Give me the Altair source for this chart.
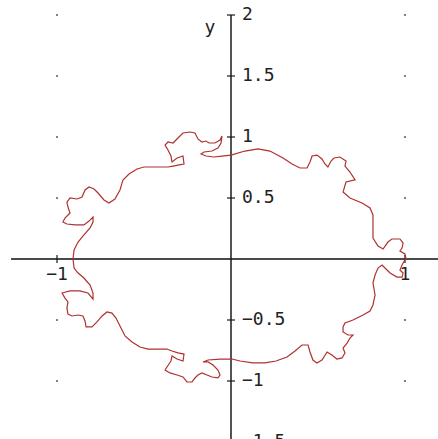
import altair as alt
import pandas as pd

# Closed curve, upper branch traced left to right (axis units)
upper_x = [-0.908, -0.902, -0.879, -0.845, -0.810, -0.793, -0.793, -0.816, -0.845, -0.897,
           -0.943, -0.966, -0.954, -0.925, -0.937, -0.943, -0.925, -0.885, -0.856, -0.839,
           -0.816, -0.787, -0.764, -0.730, -0.701, -0.667, -0.638, -0.621, -0.586, -0.540,
           -0.500, -0.431, -0.362, -0.333, -0.305, -0.270, -0.276, -0.310, -0.339, -0.345,
           -0.362, -0.379, -0.362, -0.333, -0.305, -0.276, -0.236, -0.207, -0.190, -0.167,
           -0.144, -0.126, -0.092, -0.063, -0.052, -0.057, -0.075, -0.109, -0.155, -0.172,
           -0.144, -0.098, -0.052, 0.000, 0.080, 0.155, 0.224, 0.299, 0.351, 0.397,
           0.437, 0.454, 0.466, 0.494, 0.523, 0.540, 0.557, 0.575, 0.592, 0.626,
           0.661, 0.655, 0.684, 0.713, 0.661, 0.644, 0.684, 0.753, 0.799, 0.816,
           0.816, 0.816, 0.845, 0.874, 0.902, 0.925, 0.971, 0.989, 0.983, 0.971,
           1.000, 1.006]
upper_y = [0.000, 0.074, 0.139, 0.197, 0.254, 0.303, 0.344, 0.311, 0.279, 0.279,
           0.287, 0.303, 0.336, 0.377, 0.426, 0.467, 0.500, 0.492, 0.508, 0.566,
           0.590, 0.574, 0.541, 0.484, 0.459, 0.492, 0.566, 0.648, 0.697, 0.738,
           0.754, 0.754, 0.754, 0.762, 0.770, 0.779, 0.844, 0.828, 0.795, 0.844,
           0.893, 0.934, 0.959, 0.951, 0.992, 1.033, 1.041, 1.033, 0.984, 0.959,
           0.967, 0.951, 0.951, 0.975, 1.008, 0.951, 0.910, 0.885, 0.877, 0.861,
           0.844, 0.836, 0.844, 0.852, 0.885, 0.902, 0.885, 0.828, 0.779, 0.746,
           0.746, 0.795, 0.844, 0.852, 0.820, 0.779, 0.754, 0.803, 0.828, 0.836,
           0.803, 0.762, 0.713, 0.648, 0.631, 0.549, 0.500, 0.459, 0.418, 0.361,
           0.279, 0.172, 0.107, 0.082, 0.139, 0.164, 0.164, 0.131, 0.090, 0.066,
           0.041, 0.000]

# Lower branch traced left to right (axis units)
lower_x = [-0.908, -0.902, -0.879, -0.845, -0.810, -0.793, -0.793, -0.822, -0.868, -0.925,
           -0.971, -0.954, -0.937, -0.943, -0.937, -0.914, -0.879, -0.851, -0.839, -0.833,
           -0.799, -0.770, -0.741, -0.713, -0.684, -0.661, -0.638, -0.609, -0.569, -0.523,
           -0.477, -0.368, -0.339, -0.305, -0.270, -0.276, -0.310, -0.339, -0.345, -0.368,
           -0.379, -0.351, -0.310, -0.276, -0.253, -0.224, -0.207, -0.190, -0.167, -0.138,
           -0.109, -0.075, -0.063, -0.075, -0.103, -0.132, -0.161, -0.132, -0.063, 0.006,
           0.052, 0.126, 0.195, 0.259, 0.322, 0.368, 0.408, 0.443, 0.454, 0.471,
           0.494, 0.523, 0.552, 0.580, 0.609, 0.638, 0.655, 0.644, 0.667, 0.684,
           0.701, 0.672, 0.644, 0.644, 0.655, 0.701, 0.759, 0.799, 0.816, 0.828,
           0.816, 0.828, 0.845, 0.868, 0.885, 0.914, 0.954, 0.983, 0.989, 0.971,
           0.983, 1.000, 1.006]
lower_y = [0.000, -0.074, -0.115, -0.156, -0.213, -0.279, -0.328, -0.279, -0.262, -0.262,
           -0.279, -0.320, -0.352, -0.402, -0.451, -0.467, -0.459, -0.467, -0.508, -0.557,
           -0.557, -0.516, -0.467, -0.434, -0.443, -0.484, -0.549, -0.631, -0.680, -0.721,
           -0.738, -0.738, -0.754, -0.770, -0.779, -0.836, -0.820, -0.795, -0.836, -0.885,
           -0.910, -0.934, -0.951, -0.967, -1.008, -1.008, -0.975, -0.951, -0.934, -0.951,
           -0.967, -0.975, -0.951, -0.910, -0.869, -0.844, -0.844, -0.828, -0.820, -0.820,
           -0.836, -0.852, -0.852, -0.836, -0.803, -0.754, -0.705, -0.705, -0.762, -0.828,
           -0.852, -0.828, -0.762, -0.787, -0.820, -0.811, -0.770, -0.730, -0.689, -0.648,
           -0.623, -0.623, -0.598, -0.557, -0.525, -0.500, -0.459, -0.426, -0.377, -0.295,
           -0.197, -0.131, -0.074, -0.049, -0.074, -0.115, -0.148, -0.148, -0.115, -0.090,
           -0.049, -0.008, 0.000]

# Axis ticks and their labels
y_tick_values = [2, 1.5, 1, 0.5, -0.5, -1, -1.5]
y_tick_labels = ["2", "1.5", "1", "0.5", "−0.5", "−1", "−1.5"]
x_tick_values = [-1, 1]
x_tick_labels = ["−1", "1"]

# Background point grid
grid_x = [-1, 1]
grid_y = [2, 1.5, 1, 0.5, -0.5, -1, -1.5]

# Visible window of the plane and axis extents
X_DOMAIN = [-1.3276, 1.1897]
Y_DOMAIN = [-1.4754, 2.1230]
X_AXIS_RANGE = [-1.264, 1.19]
Y_AXIS_RANGE = [-1.475, 2.0]
TICK_HALF_X = 4 / 174   # half tick length along x, in axis units
TICK_HALF_Y = 4 / 122   # half tick length along y, in axis units

W, H = 438, 439
FONT = "DejaVu Sans Mono"
TEXT_COLOR = "#222222"

xs = alt.Scale(domain=X_DOMAIN, nice=False, zero=False)
ys = alt.Scale(domain=Y_DOMAIN, nice=False, zero=False)


def X(field):
    return alt.X(field, type="quantitative", scale=xs, axis=None)


def Y(field):
    return alt.Y(field, type="quantitative", scale=ys, axis=None)


# Curve table
curve_rows = []
for i, (a, b) in enumerate(zip(upper_x, upper_y)):
    curve_rows.append({"x": a, "y": b, "branch": "upper", "i": i})
for i, (a, b) in enumerate(zip(lower_x, lower_y)):
    curve_rows.append({"x": a, "y": b, "branch": "lower", "i": i})
curve_df = pd.DataFrame(curve_rows)

# Grid points
grid_df = pd.DataFrame([{"x": gx, "y": gy} for gx in grid_x for gy in grid_y])

# Axis lines
xaxis_df = pd.DataFrame([{"x": X_AXIS_RANGE[0], "x2": X_AXIS_RANGE[1], "y": 0, "y2": 0}])
yaxis_df = pd.DataFrame([{"x": 0, "x2": 0, "y": Y_AXIS_RANGE[0], "y2": Y_AXIS_RANGE[1]}])

# Tick marks
ytick_df = pd.DataFrame([{"x": -TICK_HALF_X, "x2": TICK_HALF_X, "y": v, "y2": v, "label": t}
                         for v, t in zip(y_tick_values, y_tick_labels)])
xtick_df = pd.DataFrame([{"x": v, "x2": v, "y": -TICK_HALF_Y, "y2": TICK_HALF_Y, "label": t}
                         for v, t in zip(x_tick_values, x_tick_labels)])

grid_layer = alt.Chart(grid_df).mark_point(filled=True, size=5, color="#666666", opacity=1).encode(
    x=X("x"), y=Y("y"))

xaxis_layer = alt.Chart(xaxis_df).mark_rule(color="#4a4a4a", strokeWidth=2).encode(
    x=X("x"), x2="x2", y=Y("y"), y2="y2")
yaxis_layer = alt.Chart(yaxis_df).mark_rule(color="#1a1a1a", strokeWidth=1.5).encode(
    x=X("x"), x2="x2", y=Y("y"), y2="y2")

ytick_layer = alt.Chart(ytick_df).mark_rule(color="#1a1a1a", strokeWidth=1.2).encode(
    x=X("x"), x2="x2", y=Y("y"), y2="y2")
xtick_layer = alt.Chart(xtick_df).mark_rule(color="#1a1a1a", strokeWidth=1.2).encode(
    x=X("x"), x2="x2", y=Y("y"), y2="y2")

ylabel_layer = alt.Chart(ytick_df).mark_text(
    align="left", baseline="middle", dx=7, font=FONT, fontSize=18, color=TEXT_COLOR
).encode(x=alt.X("x2:Q", scale=xs, axis=None), y=Y("y"), text="label:N")

xlabel_layer = alt.Chart(xtick_df).mark_text(
    align="center", baseline="middle", dy=20, font=FONT, fontSize=18, color=TEXT_COLOR
).encode(x=X("x"), y=alt.Y("y2:Q", scale=ys, axis=None), text="label:N")

name_layer = alt.Chart(pd.DataFrame([{"x": 0, "y": 2, "t": "y"}])).mark_text(
    align="center", baseline="middle", dx=-21, dy=13, font=FONT, fontSize=18, color=TEXT_COLOR
).encode(x=X("x"), y=Y("y"), text="t:N")

curve_layer = alt.Chart(curve_df).mark_line(color="#b03030", strokeWidth=1.2).encode(
    x=X("x"), y=Y("y"), detail="branch:N", order="i:Q")

chart = alt.layer(
    grid_layer, xaxis_layer, yaxis_layer, ytick_layer, xtick_layer,
    curve_layer, ylabel_layer, xlabel_layer, name_layer
).properties(
    width=W, height=H,
    autosize=alt.AutoSizeParams(type="none"),
    padding=0,
    background="white",
).configure_view(stroke=None)

chart.save("out.html", embed_options={"renderer": "svg", "actions": False})
